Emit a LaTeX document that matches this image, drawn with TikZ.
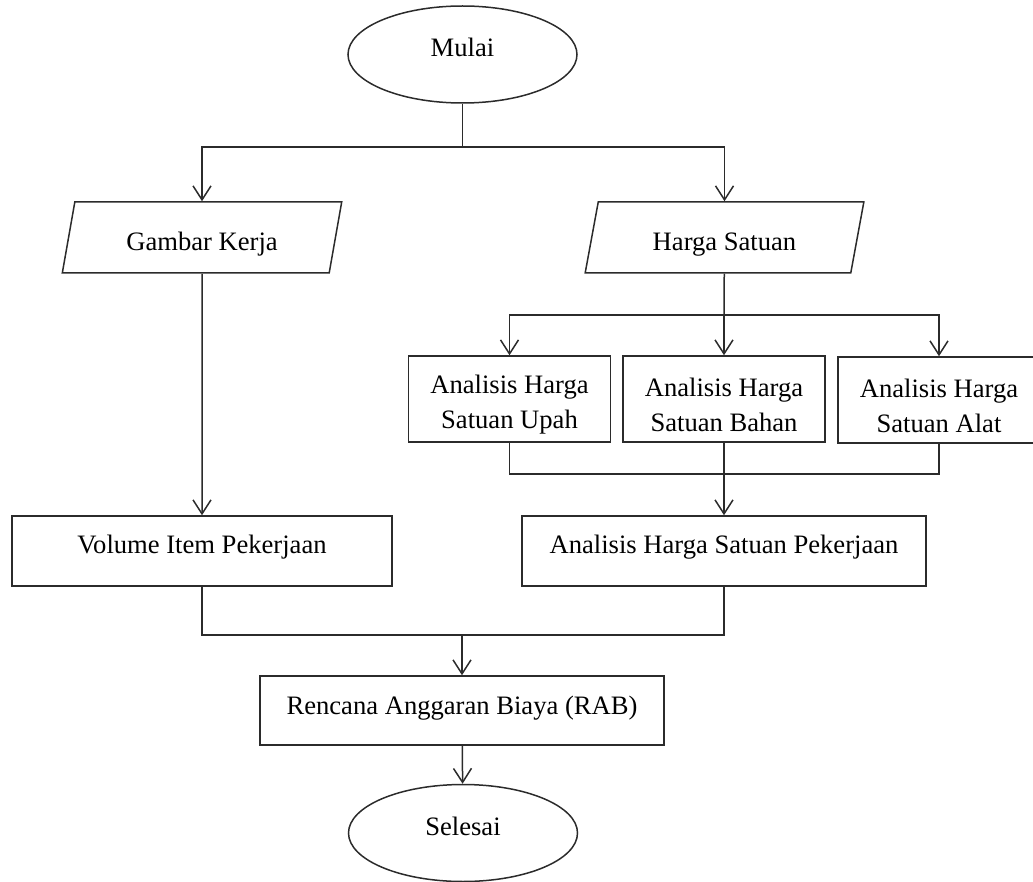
\documentclass[tikz,border=0pt]{standalone}
\usepackage{fontspec}
\setmainfont{Liberation Serif}
\usetikzlibrary{arrows.meta,positioning,shapes.geometric}
\definecolor{fline}{HTML}{2B2B2B}
\newcommand{\tallstrut}{\rule{0pt}{15pt}}

\begin{document}
\begin{tikzpicture}[x=0.5pt,y=-0.5pt,
  every node/.style={font=\fontsize{13.3}{17.5}\selectfont,text=black},
  line/.style={draw=fline,line width=0.75pt},
  >={Straight Barb[length=7pt,width=9pt,line width=0.75pt]},
  term/.style={line,ellipse,minimum width=114.5pt,minimum height=48.5pt,text height=9pt,text depth=7pt,inner sep=0pt},
  io/.style={line,trapezium,trapezium left angle=77,trapezium right angle=103,trapezium stretches=true,minimum width=140pt,minimum height=35.5pt,text height=13pt,text depth=0pt,inner sep=2pt},
  proc/.style={line,rectangle,minimum height=35pt,text height=9pt,text depth=7pt,inner sep=0pt},
  anl/.style={line,rectangle,align=center,minimum width=101pt,minimum height=43pt,inner sep=0pt}]
  \useasboundingbox (0,0) rectangle (1033,882);

  % start, inputs
  \node[term] (mulai) at (462.5,54.5) {Mulai};
  \node[io] (gambar) at (202,237.5) {Gambar Kerja};
  \node[io] (harga) at (724.5,237.5) {Harga Satuan};

  % unit price analyses
  \node[anl] (upah) at (509.5,399) {\tallstrut Analisis Harga\\Satuan Upah};
  \node[anl] (bahan) at (724,399) {\tallstrut Analisis Harga\\Satuan Bahan};
  \node[anl] (alat) at (939,400) {\tallstrut Analisis Harga\\Satuan Alat};

  \node[proc,minimum width=190pt] (volume) at (202,551) {Volume Item Pekerjaan};
  \node[proc,minimum width=202pt] (pekerjaan) at (724,551) {Analisis Harga Satuan Pekerjaan};
  \node[proc,minimum width=202pt,minimum height=34.5pt,text depth=5pt] (rab) at (462,710.5) {Rencana Anggaran Biaya (RAB)};
  \node[term] (selesai) at (463,833) {Selesai};

  \coordinate (fork1) at (462.5,147);
  \coordinate (fork2) at (724,315);
  \coordinate (join1) at (724,474);
  \coordinate (join2) at (462,635);

  \draw[line] (mulai) -- (fork1);
  \draw[line,->] (fork1) -| (gambar);
  \draw[line,->] (fork1) -| (harga);
  \draw[line,->] (gambar) -- (volume);

  \draw[line] (harga) -- (fork2);
  \draw[line,->] (fork2) -| (upah);
  \draw[line,->] (fork2) -- (bahan);
  \draw[line,->] (fork2) -| (alat);

  \draw[line] (upah) |- (join1) -| (alat);
  \draw[line,->] (bahan) -- (pekerjaan);

  \draw[line] (volume) |- (join2) -| (pekerjaan);
  \draw[line,->] (join2) -- (rab);
  \draw[line,->] (rab) -- (selesai);
\end{tikzpicture}
\end{document}
